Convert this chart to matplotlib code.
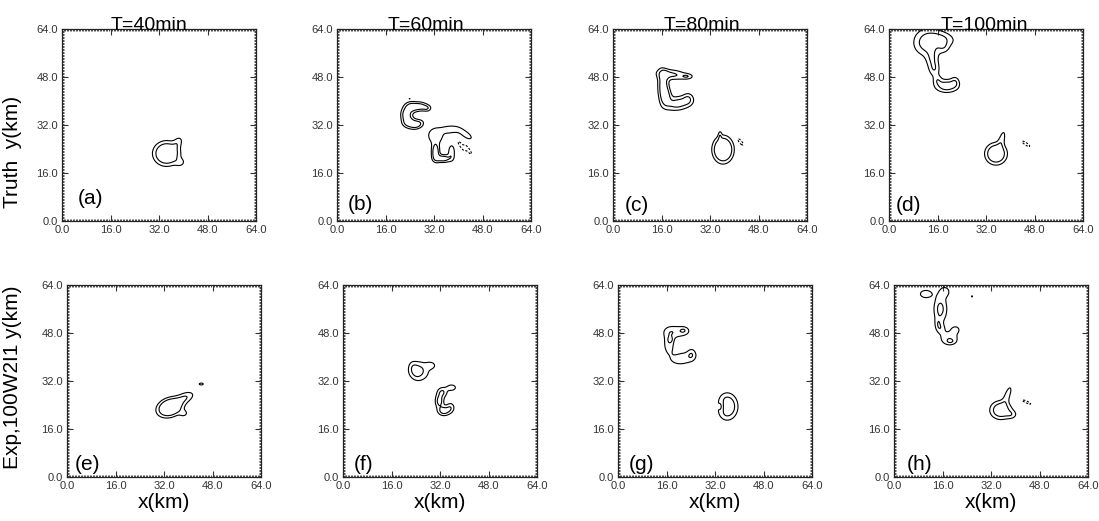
import numpy as np
import matplotlib
matplotlib.use("Agg")
import matplotlib.pyplot as plt
from matplotlib.ticker import MultipleLocator, FormatStrFormatter

plt.rcParams['font.family'] = ['Liberation Sans', 'DejaVu Sans']

# ---------------- data ----------------
titles = ["T=40min", "T=60min", "T=80min", "T=100min"]
row_labels = ["Truth  y(km)", "Exp,100W2I1 y(km)"]
panel_tags = ["(a)", "(b)", "(c)", "(d)", "(e)", "(f)", "(g)", "(h)"]
tick_values = [0.0, 16.0, 32.0, 48.0, 64.0]
levels_solid = [16.0, 32.0]
levels_dashed = [-16.0]

# storm cells: (x_km, y_km, sx_km, sy_km, angle_deg, amplitude)
cells_a = [(34.5, 22.5, 2.6, 2.4, 0, 80), (38.3, 26.3, 1.6, 1.0, 60, 20),
           (39.0, 19.5, 1.2, 1.0, 0, 18)]
cells_b = [(27.5, 38.2, 1.5, 1.0, 0, 40), (24.5, 38.0, 1.5, 1.2, 0, 45),
           (22.8, 35.5, 1.2, 1.5, 0, 45), (23.8, 32.8, 1.5, 1.2, 0, 45),
           (26.5, 32.2, 1.5, 1.0, 20, 40), (29.8, 37.6, 1.0, 0.8, 0, 25),
           (24.0, 40.8, 0.8, 0.3, 0, -20),
           (32.5, 28.5, 2.0, 2.0, 0, 30), (37.5, 30.5, 2.2, 1.0, 0, 28),
           (42.5, 28.8, 2.2, 0.9, -35, 25), (32.5, 23.0, 0.9, 2.0, 0, 50),
           (35.0, 20.8, 1.8, 0.9, 0, 45), (37.8, 23.0, 0.8, 1.8, 0, 30),
           (41.0, 25.0, 2.2, 0.5, -55, -22), (43.3, 23.8, 2.2, 0.5, -55, -22)]
cells_c = [(19.5, 48.8, 3.5, 1.2, -5, 35), (24.5, 48.2, 1.3, 0.6, 0, 22),
           (16.5, 45.5, 1.2, 3.5, 0, 45), (17.5, 41.5, 1.2, 2.0, 0, 35),
           (21.5, 39.2, 3.0, 1.6, 10, 42), (24.8, 40.8, 1.2, 1.4, 0, 22),
           (18.2, 51.8, 1.3, 0.5, 0, -20),
           (36.3, 23.8, 2.0, 2.6, 0, 90), (35.3, 28.5, 0.4, 1.2, 0, 18),
           (42.0, 26.4, 1.8, 0.6, -50, -22)]
cells_d = [(12.5, 59.5, 3.0, 3.0, 0, 45), (18.0, 61.0, 3.0, 1.6, -15, 26),
           (18.0, 58.0, 1.5, 1.5, 0, 22),
           (14.2, 54.0, 1.4, 2.2, 0, 26), (15.0, 50.5, 1.3, 1.8, 0, 26),
           (19.0, 45.0, 2.6, 1.5, 0, 45), (21.8, 46.5, 1.0, 1.3, 0, 20),
           (16.0, 47.0, 1.0, 1.2, 0, 20),
           (35.3, 22.4, 2.2, 2.2, 0, 70), (37.3, 27.5, 0.8, 2.5, -15, 22),
           (45.2, 25.7, 1.9, 0.5, -35, -22)]
cells_e = [(34.0, 23.2, 2.6, 1.8, 20, 90), (39.0, 26.5, 2.3, 1.2, 25, 30),
           (38.5, 21.2, 1.0, 0.8, 0, 20), (44.3, 31.0, 1.0, 0.45, 0, 20)]
cells_f = [(25.0, 35.3, 2.4, 2.3, 0, 38), (23.5, 36.0, 1.0, 1.8, 20, 15),
           (29.0, 37.2, 1.2, 0.9, 0, 22),
           (35.8, 29.8, 1.2, 0.8, 0, 28), (32.8, 28.3, 1.2, 1.2, 0, 32),
           (31.8, 25.3, 1.0, 1.6, 0, 40), (33.3, 22.0, 1.4, 1.1, 0, 42),
           (35.5, 23.2, 1.0, 1.2, 0, 26), (42.4, 22.4, 0.2, 0.2, 0, 17)]
cells_g = [(19.5, 48.5, 3.2, 1.5, 0, 28), (21.7, 48.9, 0.9, 0.7, 0, 14),
           (16.8, 44.5, 1.3, 2.8, 0, 28), (17.4, 45.8, 0.6, 0.7, 0, 14),
           (21.3, 39.5, 3.0, 1.6, 10, 28), (24.3, 41.0, 1.0, 1.4, 0, 20),
           (36.0, 23.5, 2.2, 2.8, 0, 60), (34.2, 23.5, 0.8, 1.5, 0, -25)]
cells_h = [(10.5, 61.0, 1.8, 1.2, 0, 26), (16.8, 61.8, 1.4, 1.4, 0, 22),
           (15.3, 56.0, 1.6, 3.2, 0, 38), (14.5, 51.0, 0.8, 1.5, 0, 18),
           (15.5, 49.5, 1.0, 1.2, 0, 18),
           (18.2, 46.2, 2.4, 1.8, 0, 28), (18.6, 45.2, 1.0, 0.6, 0, 14),
           (20.3, 49.2, 1.2, 1.0, 0, 20), (25.8, 60.2, 0.2, 0.6, 0, 18),
           (35.2, 22.3, 2.3, 2.0, 0, 55), (37.5, 27.5, 0.8, 2.6, -20, 24),
           (38.8, 20.8, 1.3, 1.0, 0, 20), (43.7, 25.0, 2.0, 0.4, -25, -22)]
panel_cells = [cells_a, cells_b, cells_c, cells_d,
               cells_e, cells_f, cells_g, cells_h]

# ---------------- layout ----------------
W, H = 1099, 521
fig = plt.figure(figsize=(W / 100, H / 100), dpi=100)
lefts = [[62, 337, 613, 889], [67, 343, 618, 894]]
tops = [29, 285]
size_w, size_h = 194, 192
tag_xy = [(5.3, 5.6), (3.6, 3.7), (4.0, 3.3), (2.3, 3.3),
          (2.6, 2.3), (3.6, 2.3), (3.6, 2.3), (4.3, 2.3)]
ylabel_xy = [(-0.206, 0.36), (-0.232, 0.52)]
title_x = [0.45, 0.46, 0.46, 0.49]

g = np.linspace(0, 64, 257)
X, Y = np.meshgrid(g, g)


def field(cells):
    Z = np.zeros_like(X)
    for (cx, cy, sx, sy, ang, amp) in cells:
        t = np.deg2rad(ang)
        dx, dy = X - cx, Y - cy
        u = dx * np.cos(t) + dy * np.sin(t)
        v = -dx * np.sin(t) + dy * np.cos(t)
        Z += amp * np.exp(-0.5 * ((u / sx) ** 2 + (v / sy) ** 2))
    return Z


for r in range(2):
    for c in range(4):
        k = r * 4 + c
        ax = fig.add_axes([lefts[r][c] / W, 1 - (tops[r] + size_h) / H,
                           size_w / W, size_h / H])
        Z = field(panel_cells[k])
        ax.contour(X, Y, Z, levels=levels_solid, colors='black',
                   linewidths=0.8, linestyles='solid')
        if Z.min() < levels_dashed[0]:
            ax.contour(X, Y, Z, levels=levels_dashed, colors='black',
                       linewidths=0.8, linestyles=[(0, (2, 1.5))])
        ax.set_xlim(0, 64)
        ax.set_ylim(0, 64)
        ax.set_xticks(tick_values)
        ax.set_yticks(tick_values)
        ax.xaxis.set_major_formatter(FormatStrFormatter('%.1f'))
        ax.yaxis.set_major_formatter(FormatStrFormatter('%.1f'))
        ax.xaxis.set_minor_locator(MultipleLocator(0.5))
        ax.yaxis.set_minor_locator(MultipleLocator(0.5))
        ax.tick_params(which='both', direction='in', top=True, right=True,
                       labelsize=8, labelcolor='#333333', color='#333333')
        ax.tick_params(which='major', length=4, width=0.8, pad=3)
        ax.tick_params(which='minor', length=1.5, width=0.6)
        for s in ax.spines.values():
            s.set_linewidth(0.9)
            s.set_color('#222222')
        ax.text(tag_xy[k][0], tag_xy[k][1], panel_tags[k], fontsize=15,
                ha='left', va='baseline')
        if r == 0:
            ax.text(title_x[c], 0.995, titles[c], fontsize=14,
                    ha='center', va='baseline', transform=ax.transAxes)
        else:
            ax.set_xlabel("x(km)", fontsize=15, labelpad=1)
        if c == 0:
            ax.set_ylabel(row_labels[r], fontsize=15)
            ax.yaxis.set_label_coords(*ylabel_xy[r])

fig.savefig("out.png", dpi=100)
